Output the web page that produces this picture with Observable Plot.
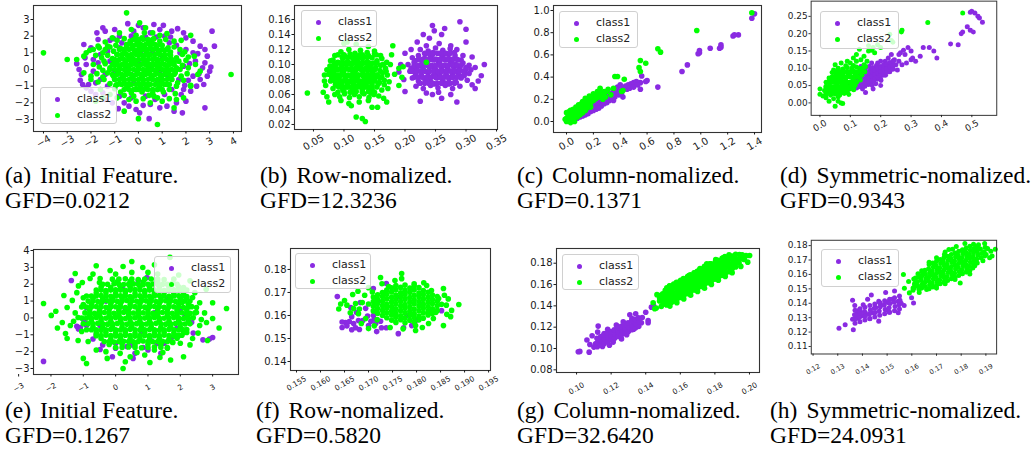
<!DOCTYPE html>
<html><head><meta charset="utf-8">
<script src="https://cdn.jsdelivr.net/npm/d3@7"></script>
<script src="https://cdn.jsdelivr.net/npm/@observablehq/plot@0.6"></script>
<style>
body{margin:0;background:#fff}
#fig{position:relative;width:1032px;height:456px;overflow:hidden;background:#fff}
.panel{position:absolute}
.panel svg{overflow:visible;display:block}
.cap{position:absolute;font-family:"Liberation Serif","Times New Roman",serif;font-size:23.5px;line-height:25.5px;white-space:nowrap;color:#000}
.cap .lab{margin-right:9px}
.legend{position:absolute;box-sizing:border-box;background:rgba(255,255,255,0.8);border:1px solid #d0d0d0;border-radius:3px;font-family:"DejaVu Sans",sans-serif;font-size:11px;color:#222}
.legend .row{position:absolute;left:0;height:16px;line-height:16px}
.legend .mk{position:absolute;width:5px;height:5px;border-radius:50%}
.legend .tx{position:absolute;white-space:nowrap}
</style></head>
<body><div id="fig"></div>
<script>
// ---------------- data ----------------
const legendLabels = ["class1","class2"];
const capLabels = ["(a)","(b)","(c)","(d)","(e)","(f)","(g)","(h)"];
const capTitles = ["Initial Feature.","Row-nomalized.","Column-nomalized.","Symmetric-nomalized.","Initial Feature.","Row-nomalized.","Column-nomalized.","Symmetric-nomalized."];
const gfdValues = ["0.0212","12.3236","0.1371","0.9343","0.1267","0.5820","32.6420","24.0931"];

const aXTicks=[-4,-3,-2,-1,0,1,2,3,4], aYTicks=[-3,-2,-1,0,1,2,3];
const bXTicks=[0.05,0.10,0.15,0.20,0.25,0.30,0.35], bYTicks=[0.02,0.04,0.06,0.08,0.10,0.12,0.14,0.16];
const cXTicks=[0,0.2,0.4,0.6,0.8,1.0,1.2,1.4], cYTicks=[0,0.2,0.4,0.6,0.8,1.0];
const dXTicks=[0,0.1,0.2,0.3,0.4,0.5], dYTicks=[0,0.05,0.10,0.15,0.20,0.25];
const eXTicks=[-3,-2,-1,0,1,2,3], eYTicks=[-3,-2,-1,0,1,2,3,4];
const fXTicks=[0.155,0.160,0.165,0.170,0.175,0.180,0.185,0.190,0.195], fYTicks=[0.14,0.15,0.16,0.17,0.18];
const gXTicks=[0.10,0.12,0.14,0.16,0.18,0.20], gYTicks=[0.08,0.10,0.12,0.14,0.16,0.18];
const hXTicks=[0.12,0.13,0.14,0.15,0.16,0.17,0.18,0.19], hYTicks=[0.11,0.12,0.13,0.14,0.15,0.16,0.17,0.18];

const aC1=[[-1.5,2.5],[-1.4,2.3],[-1.0,2.4],[-.8,2.0],[-.45,2.75],[-.2,2.3],[.2,2.5],[.5,2.2],[.65,2.7],[.9,2.4],[1.1,2.0],[1.4,2.3],[1.65,2.45],[1.9,2.2],[3.1,2.3],[-1.7,1.8],[-1.2,1.75],[-.7,1.6],[-.3,2.0],[.3,1.95],[.75,1.95],[1.3,1.6],[1.6,1.45],[2.0,1.9],[2.3,1.7],[2.6,1.4],[3.2,1.4],[2.8,1.2],[-2.0,1.3],[-2.3,1.5],[-1.9,.6],[-2.2,.3],[-2.5,0],[-2.4,-.3],[-2.45,-.65],[-2.1,-.9],[-2.2,-1.1],[-1.8,-.8],[-1.9,-.1],[-1.7,.4],[-1.6,.9],[2.5,.95],[2.8,.4],[3.0,-.1],[2.7,.1],[2.4,.5],[2.3,-.4],[2.1,-.65],[2.6,-.6],[2.45,-1.0],[2.2,-1.3],[1.9,-1.2],[1.8,-1.5],[2.0,-1.9],[1.6,-2.0],[2.8,-2.3],[1.85,-2.6],[1.2,-2.2],[.9,-2.3],[.5,-2.1],[.45,-2.95],[.05,-2.6],[-.1,-2.4],[-.4,-2.2],[-.85,-2.35],[-1.1,-2.0],[-1.4,-1.8],[-1.5,-1.4],[-1.8,-1.5],[-.8,-1.6],[-.3,-1.7],[.3,-1.6],[.7,-1.8],[1.1,-1.5],[1.4,-1.2],[1.7,-.6],[1.9,.2],[2.0,1.2],[1.75,1.0],[-1.3,-1.0],[-1.4,-.3],[-1.2,.5],[-1.3,1.1],[-.8,1.3],[-.4,.8],[.1,1.0],[.6,1.1],[1.0,.8],[1.4,.4],[1.2,-.3],[.8,-.7],[.3,-.9],[-.2,-.8],[-.7,-.5],[-1.0,-.1],[-.5,.2],[0,.4],[.5,0],[.9,-.2],[-.3,-.3],[2.3,1.0],[2.15,.35],[2.9,.8],[2.55,-.25],[2.75,-.9],[1.5,-2.5],[.2,-2.15],[-.6,-2.0],[-1.75,2.2],[0,2.65],[1.05,2.65],[1.35,1.95],[-2.6,.35],[-2.25,.7],[-1.05,1.85],[3.05,.15],[2.9,-.4],[1.95,-.95],[-1.6,-.6],[-2.0,-1.3],[-2.35,-.9]];
const aC2=[[-.5,3.4],[.05,2.8],[.3,2.5],[.6,2.2],[-.3,2.4],[-.8,2.2],[1.2,2.15],[.9,2.05],[-.1,2.05],[.25,2.2],[-1.4,1.65],[-1.1,1.9],[-.9,1.75],[-.6,1.85],[-.35,1.7],[-.1,1.8],[.15,1.9],[.4,1.75],[.65,1.85],[.9,1.7],[1.15,1.8],[1.5,1.7],[1.8,1.75],[2.2,2.05],[-1.7,1.4],[-1.3,1.4],[0,1.6],[.55,1.6],[-2.2,1.0],[-2.05,1.15],[-1.9,1.2],[-1.65,1.3],[-1.4,1.2],[-1.2,1.35],[-.95,1.45],[-.75,1.25],[-.5,1.4],[-.25,1.3],[0,1.45],[.25,1.3],[.5,1.45],[.75,1.3],[1.0,1.45],[1.25,1.3],[1.5,1.35],[1.75,1.2],[1.95,1.05],[-1.05,1.1],[-.6,1.05],[-.15,1.1],[.35,1.05],[.85,1.1],[1.35,1.05],[-1.5,1.0],[.1,1.2],[.6,1.2],[1.1,1.15],[-2.3,.8],[-1.8,.85],[-1.55,.7],[-1.3,.85],[-1.1,.65],[-.9,.9],[-.7,.7],[-.45,.85],[-.25,.65],[0,.9],[.2,.7],[.45,.85],[.65,.65],[.9,.9],[1.1,.7],[1.35,.85],[1.6,.7],[1.85,.9],[2.1,.75],[2.35,.8],[-1.0,.5],[-.55,.5],[-.1,.5],[.35,.5],[.8,.5],[1.25,.55],[1.7,.5],[-3,.6],[-2.6,.6],[-4,1.0],[-1.45,.5],[2.0,.55],[-1.9,.3],[-1.65,.15],[-1.4,.35],[-1.2,.1],[-1.0,.3],[-.8,.1],[-.6,.3],[-.4,.1],[-.2,.35],[0,.15],[.2,.35],[.4,.1],[.6,.3],[.8,.1],[1.0,.35],[1.2,.15],[1.4,.35],[1.6,.1],[1.85,.25],[2.1,.1],[2.4,.3],[-.9,.45],[-.3,.45],[.3,.45],[.9,.25],[1.5,.45],[-1.5,-.05],[-.05,-.05],[.5,-.05],[1.1,-.05],[1.75,0],[-2.3,-.2],[-2.0,-.4],[-1.75,-.25],[-1.5,-.45],[-1.3,-.2],[-1.05,-.4],[-.85,-.15],[-.65,-.4],[-.45,-.2],[-.25,-.45],[-.05,-.25],[.15,-.45],[.35,-.2],[.55,-.4],[.75,-.2],[.95,-.45],[1.15,-.25],[1.35,-.45],[1.55,-.2],[1.8,-.4],[2.05,-.25],[2.5,-.3],[2.6,-.1],[3.9,-.3],[-.55,-.05],[.25,-.1],[1.3,-.05],[-2.0,-.6],[-1.7,-.75],[-1.45,-.6],[-1.2,-.85],[-1.0,-.6],[-.8,-.85],[-.6,-.65],[-.4,-.9],[-.2,-.6],[0,-.85],[.2,-.65],[.4,-.9],[.6,-.6],[.8,-.85],[1.0,-.65],[1.2,-.9],[1.4,-.6],[1.65,-.8],[1.9,-.65],[2.2,-.95],[-.95,-.95],[.1,-1.0],[.9,-1.0],[1.6,-1.0],[-1.6,-1.2],[-1.2,-1.5],[-1.0,-1.15],[-.75,-1.35],[-.5,-1.1],[-.3,-1.4],[-.1,-1.2],[.15,-1.35],[.35,-1.15],[.6,-1.4],[.8,-1.2],[1.05,-1.35],[1.3,-1.2],[1.55,-1.45],[2.2,-1.0],[-.6,-1.55],[.45,-1.55],[-1.8,-1.9],[-1.5,-1.7],[-.9,-1.7],[-.4,-1.8],[-.1,-1.9],[.2,-1.75],[.5,-2.0],[.8,-1.7],[1.0,-1.9],[1.3,-1.75],[1.6,-1.8],[1.9,-1.7],[1.5,-2.3],[-.6,-2.5],[0,-2.95],[.8,-3.3],[.65,-1.6],[-.2,-1.6]];
const aC2Core=[[-.6,-1.2],[-.4,-1.2],[-.2,-1.2],[0,-1.2],[.2,-1.2],[.4,-1.2],[.6,-1.2],[.8,-1.2],[1.0,-1.2],[-.9,-.9],[-.7,-.9],[-.5,-.9],[-.3,-.9],[-.1,-.9],[.1,-.9],[.3,-.9],[.5,-.9],[.7,-.9],[.9,-.9],[1.1,-.9],[1.3,-.9],[-1.0,-.6],[-.8,-.6],[-.6,-.6],[-.4,-.6],[-.2,-.6],[0,-.6],[.2,-.6],[.4,-.6],[.6,-.6],[.8,-.6],[1.0,-.6],[1.2,-.6],[1.4,-.6],[-1.1,-.3],[-.9,-.3],[-.7,-.3],[-.5,-.3],[-.3,-.3],[-.1,-.3],[.1,-.3],[.3,-.3],[.5,-.3],[.7,-.3],[.9,-.3],[1.1,-.3],[1.3,-.3],[1.5,-.3],[-1.2,0],[-1.0,0],[-.8,0],[-.6,0],[-.4,0],[-.2,0],[0,0],[.2,0],[.4,0],[.6,0],[.8,0],[1.0,0],[1.2,0],[1.4,0],[1.6,0],[-1.1,.3],[-.9,.3],[-.7,.3],[-.5,.3],[-.3,.3],[-.1,.3],[.1,.3],[.3,.3],[.5,.3],[.7,.3],[.9,.3],[1.1,.3],[1.3,.3],[1.5,.3],[-1.0,.6],[-.8,.6],[-.6,.6],[-.4,.6],[-.2,.6],[0,.6],[.2,.6],[.4,.6],[.6,.6],[.8,.6],[1.0,.6],[1.2,.6],[1.4,.6],[-.9,.9],[-.7,.9],[-.5,.9],[-.3,.9],[-.1,.9],[.1,.9],[.3,.9],[.5,.9],[.7,.9],[.9,.9],[1.1,.9],[1.3,.9],[-.8,1.2],[-.6,1.2],[-.4,1.2],[-.2,1.2],[0,1.2],[.2,1.2],[.4,1.2],[.6,1.2],[.8,1.2],[1.0,1.2],[1.2,1.2],[-.5,1.5],[-.3,1.5],[-.1,1.5],[.1,1.5],[.3,1.5],[.5,1.5],[.7,1.5],[.9,1.5],[-.2,1.8],[0,1.8],[.2,1.8],[.4,1.8],[.6,1.8]];

const bC1=[[.29,.157],[.30,.147],[.245,.152],[.248,.145],[.265,.148],[.26,.14],[.285,.05],[.225,.051],[.26,.055],[.245,.06],[.33,.1],[.325,.085],[.32,.078],[.315,.068],[.31,.073],[.305,.088],[.198,.08],[.2,.064],[.193,.1],[.19,.09],[.2,.115],[.21,.12],[.22,.13],[.235,.125],[.275,.125],[.285,.12],[.3,.13],[.295,.112],[.31,.11],[.23,.14],[.24,.135],[.225,.12],[.238,.118],[.25,.122],[.262,.119],[.274,.121],[.256,.128],[.212,.109],[.222,.112],[.232,.108],[.242,.111],[.252,.107],[.262,.111],[.272,.108],[.282,.112],[.292,.106],[.205,.1],[.215,.103],[.225,.099],[.235,.102],[.245,.098],[.255,.102],[.265,.099],[.275,.103],[.285,.098],[.295,.102],[.305,.099],[.315,.096],[.208,.091],[.218,.088],[.228,.092],[.238,.089],[.248,.093],[.258,.089],[.268,.092],[.278,.088],[.288,.092],[.298,.089],[.308,.093],[.212,.082],[.222,.078],[.232,.081],[.242,.077],[.252,.082],[.262,.078],[.272,.081],[.282,.077],[.292,.082],[.302,.079],[.218,.071],[.23,.068],[.242,.072],[.254,.069],[.266,.072],[.278,.068],[.29,.071],[.255,.063],[.235,.062],[.275,.06],[.228,.104],[.25,.087],[.27,.095],[.29,.085],[.24,.083],[.26,.113],[.283,.1],[.217,.094],[.246,.116],[.268,.086],[.3,.094],[.217,.105],[.227,.106],[.237,.104],[.247,.106],[.257,.104],[.267,.106],[.277,.104],[.287,.106],[.21,.095],[.22,.096],[.23,.094],[.24,.096],[.25,.094],[.26,.096],[.27,.094],[.28,.096],[.29,.094],[.3,.096],[.217,.085],[.227,.086],[.237,.084],[.247,.086],[.257,.084],[.267,.086],[.277,.084],[.287,.086],[.297,.085],[.224,.075],[.236,.076],[.248,.074],[.26,.076],[.272,.074],[.284,.076],[.233,.114],[.245,.113],[.257,.115],[.269,.114],[.281,.116]];
const bC1Core=[[.225,.075],[.232,.075],[.239,.075],[.246,.075],[.253,.075],[.26,.075],[.267,.075],[.274,.075],[.281,.075],[.215,.083],[.222,.083],[.229,.083],[.236,.083],[.243,.083],[.25,.083],[.257,.083],[.264,.083],[.271,.083],[.278,.083],[.285,.083],[.292,.083],[.212,.091],[.219,.091],[.226,.091],[.233,.091],[.24,.091],[.247,.091],[.254,.091],[.261,.091],[.268,.091],[.275,.091],[.282,.091],[.289,.091],[.296,.091],[.215,.099],[.222,.099],[.229,.099],[.236,.099],[.243,.099],[.25,.099],[.257,.099],[.264,.099],[.271,.099],[.278,.099],[.285,.099],[.292,.099],[.222,.107],[.229,.107],[.236,.107],[.243,.107],[.25,.107],[.257,.107],[.264,.107],[.271,.107],[.278,.107],[.285,.107],[.232,.115],[.239,.115],[.246,.115],[.253,.115],[.26,.115],[.267,.115],[.274,.115]];
const bC2=[[.04,.062],[.13,.028],[.135,.024],[.12,.030],[.108,.048],[.112,.045],[.146,.043],[.155,.043],[.165,.055],[.17,.05],[.068,.078],[.066,.063],[.072,.057],[.075,.05],[.078,.105],[.1,.128],[.105,.13],[.12,.127],[.14,.124],[.18,.125],[.178,.113],[.19,.095],[.197,.097],[.195,.083],[.19,.072],[.183,.087],[.095,.117],[.108,.12],[.118,.115],[.127,.119],[.138,.116],[.15,.118],[.16,.112],[.085,.112],[.082,.106],[.09,.103],[.098,.108],[.106,.104],[.114,.109],[.122,.105],[.13,.108],[.138,.104],[.146,.109],[.154,.105],[.162,.108],[.17,.103],[.077,.098],[.08,.097],[.088,.094],[.096,.099],[.104,.095],[.112,.1],[.12,.096],[.128,.099],[.136,.095],[.144,.1],[.152,.096],[.16,.099],[.168,.095],[.176,.1],[.072,.093],[.075,.087],[.083,.09],[.091,.086],[.099,.09],[.107,.085],[.115,.089],[.123,.086],[.131,.09],[.139,.086],[.147,.09],[.155,.086],[.163,.089],[.171,.086],[.068,.086],[.078,.078],[.086,.081],[.094,.076],[.102,.08],[.11,.077],[.118,.081],[.126,.076],[.134,.08],[.142,.077],[.15,.081],[.158,.076],[.166,.079],[.174,.077],[.07,.072],[.082,.068],[.09,.071],[.098,.066],[.106,.07],[.114,.067],[.122,.071],[.13,.066],[.138,.07],[.146,.067],[.154,.07],[.162,.066],[.172,.068],[.085,.06],[.093,.057],[.101,.061],[.109,.056],[.117,.06],[.125,.057],[.133,.061],[.141,.056],[.149,.06],[.157,.058],[.095,.052],[.125,.05],[.14,.052],[.087,.1],[.1,.113],[.113,.094],[.126,.113],[.14,.098],[.153,.113],[.105,.074],[.118,.062],[.131,.074],[.144,.062],[.092,.082],[.135,.083],[.158,.083],[.117,.105],[.097,.091],[.15,.093],[.165,.1],[.08,.082],[.09,.113],[.1,.112],[.11,.114],[.12,.111],[.13,.113],[.14,.112],[.15,.114],[.084,.1],[.094,.102],[.104,.1],[.114,.102],[.124,.1],[.134,.102],[.144,.1],[.154,.102],[.164,.1],[.079,.092],[.089,.093],[.099,.092],[.109,.093],[.119,.092],[.129,.093],[.139,.092],[.149,.093],[.159,.092],[.169,.091],[.082,.083],[.092,.084],[.102,.083],[.112,.084],[.122,.083],[.132,.084],[.142,.083],[.152,.084],[.162,.083],[.086,.073],[.096,.074],[.106,.073],[.116,.074],[.126,.073],[.136,.074],[.146,.073],[.156,.074],[.166,.073],[.09,.063],[.1,.064],[.11,.063],[.12,.064],[.13,.063],[.14,.064],[.15,.063],[.235,.103]];
const bC2Core=[[.092,.07],[.098,.07],[.104,.07],[.11,.07],[.116,.07],[.122,.07],[.128,.07],[.134,.07],[.14,.07],[.146,.07],[.085,.078],[.091,.078],[.097,.078],[.103,.078],[.109,.078],[.115,.078],[.121,.078],[.127,.078],[.133,.078],[.139,.078],[.145,.078],[.151,.078],[.082,.086],[.088,.086],[.094,.086],[.1,.086],[.106,.086],[.112,.086],[.118,.086],[.124,.086],[.13,.086],[.136,.086],[.142,.086],[.148,.086],[.154,.086],[.085,.094],[.091,.094],[.097,.094],[.103,.094],[.109,.094],[.115,.094],[.121,.094],[.127,.094],[.133,.094],[.139,.094],[.145,.094],[.151,.094],[.088,.102],[.094,.102],[.1,.102],[.106,.102],[.112,.102],[.118,.102],[.124,.102],[.13,.102],[.136,.102],[.142,.102],[.148,.102],[.097,.11],[.103,.11],[.109,.11],[.115,.11],[.121,.11],[.127,.11],[.133,.11],[.139,.11]];

const cC1=[[1.4,.97],[1.38,.93],[1.28,.78],[1.24,.77],[1.25,.78],[1.15,.67],[1.14,.66],[1.15,.69],[1.07,.66],[.99,.64],[.99,.62],[.98,.61],[.9,.51],[.86,.45],[.68,.31],[.6,.37],[.59,.36],[.55,.35],[.55,.29],[.56,.41],[.5,.35],[.52,.36],[.48,.34],[.46,.33],[.44,.32],[.42,.3],[.42,.22],[.4,.27],[.38,.28],[.37,.26],[.36,.22],[.34,.25],[.33,.23],[.32,.22],[.3,.2],[.3,.17],[.28,.19],[.27,.17],[.26,.14],[.25,.16],[.24,.15],[.23,.13],[.22,.14],[.21,.12],[.2,.13],[.19,.11],[.18,.12],[.17,.1],[.16,.09],[.15,.1],[.14,.08],[.13,.09],[.12,.07],[.11,.08],[.1,.06],[.09,.05],[.08,.06],[.07,.04],[.06,.05],[.05,.03],[.04,.02],[.35,.19],[.31,.24],[.29,.21],[.27,.2],[.39,.24],[.41,.25],[.45,.29],[.47,.3],[.5,.31],[.53,.33],[.35,.27],[.33,.25],[.3,.22],[.2,.1],[.22,.11],[.24,.12],[.18,.09],[.16,.07],[.14,.06],[.12,.05],[.1,.04],[.08,.03],[.25,.19],[.28,.16],[.32,.19],[.36,.25],[.38,.31],[.4,.33],[.26,.21],[.23,.17],[.21,.15],[.19,.14],[.17,.12],[.15,.11]];
const cC2=[[1.38,.98],[.97,.82],[.68,.655],[.70,.625],[.59,.525],[.55,.55],[.54,.485],[.55,.45],[.43,.38],[.38,.405],[.36,.405],[.42,.28],[.41,.27],[.35,.3],[.33,.24],[.3,.27],[.28,.25],[.25,.3],[.23,.27],[.22,.24],[.2,.25],[.19,.21],[.17,.23],[.16,.2],[.15,.19],[.14,.21],[.13,.17],[.12,.18],[.11,.16],[.1,.14],[.09,.15],[.08,.12],[.07,.13],[.06,.1],[.05,.11],[.04,.08],[.03,.07],[.02,.05],[.01,.04],[0,.03],[-.01,.02],[0,0],[.02,.01],[.04,.03],[.06,.05],[.08,.07],[.1,.09],[.12,.11],[.14,.13],[.16,.15],[.18,.17],[.2,.19],[.22,.21],[.24,.22],[.26,.23],[.28,.27],[.31,.29],[.05,.06],[.07,.08],[.09,.1],[.11,.12],[.13,.14],[.15,.16],[.17,.18],[.19,.19],[.21,.22],[.03,.03],[.01,.01],[.05,.02],[.08,.04],[.03,-.01],[.06,0],[.1,.06],[.12,.08],[.14,.1],[.18,.13],[.02,.09],[.04,.05],[.06,.07],[.08,.09],[.1,.11],[.12,.13],[.025,.025],[.045,.045],[.065,.075],[.085,.085],[.105,.115],[.125,.125],[.145,.145],[.165,.175],[.185,.185],[.205,.205],[.09,.06],[.11,.08],[.13,.1],[.15,.12],[.17,.14],[.035,.055],[.015,.065],[0,.08],[.03,.1],[.055,.09],[.075,.11],[.095,.125],[.115,.145],[.135,.16],[.155,.175],[.175,.2],[.195,.225],[.21,.2],[.23,.22],[.24,.24],[.27,.2],[.29,.22],[.26,.26]];

const dC1=[[.5,.265],[.495,.262],[.51,.26],[.52,.25],[.525,.245],[.535,.233],[.495,.21],[.505,.205],[.485,.22],[.47,.205],[.465,.2],[.43,.17],[.455,.168],[.385,.13],[.375,.15],[.36,.16],[.34,.16],[.33,.135],[.315,.12],[.3,.15],[.3,.125],[.29,.16],[.275,.152],[.265,.145],[.26,.14],[.28,.14],[.245,.125],[.25,.11],[.27,.11],[.285,.115],[.305,.13],[.235,.14],[.225,.13],[.215,.12],[.22,.105],[.2,.12],[.185,.1],[.2,.05],[.175,.04],[.15,.03],[.14,.04],[.17,.06],[.23,.09],[.24,.1],[.21,.08],[.26,.12],[.255,.095],[.1,.045],[.112,.05],[.124,.046],[.136,.052],[.148,.048],[.16,.053],[.172,.05],[.184,.055],[.105,.06],[.117,.064],[.129,.06],[.141,.065],[.153,.062],[.165,.067],[.177,.063],[.189,.068],[.201,.065],[.12,.075],[.132,.079],[.144,.076],[.156,.08],[.168,.077],[.18,.082],[.192,.079],[.204,.084],[.216,.08],[.13,.088],[.142,.092],[.154,.089],[.166,.094],[.178,.09],[.19,.096],[.202,.093],[.214,.098],[.226,.095],[.15,.1],[.162,.105],[.174,.102],[.186,.108],[.198,.105],[.21,.11],[.17,.115],[.19,.115],[.09,.035],[.095,.055],[.11,.07],[.16,.085],[.2,.07],[.185,.085],[.145,.07],[.135,.105],[.21,.095],[.23,.105],[.24,.115]];
const dC1Core=[[.12,.043],[.12,.055],[.12,.067],[.13,.0475],[.13,.0595],[.13,.0715],[.14,.052],[.14,.064],[.14,.076],[.15,.0565],[.15,.0685],[.15,.0805],[.16,.061],[.16,.073],[.16,.085],[.17,.0655],[.17,.0775],[.17,.0895],[.18,.07],[.18,.082],[.18,.094],[.19,.0745],[.19,.0865],[.19,.0985],[.20,.079],[.20,.091],[.20,.103],[.21,.0835],[.21,.0955],[.21,.1075],[.22,.088],[.22,.1],[.22,.112],[.23,.0925],[.23,.1045],[.23,.1165],[.24,.097],[.24,.109],[.24,.121]];
const dC2=[[0,.04],[0,.025],[.01,.02],[.02,.015],[.03,.005],[.05,-.01],[.07,0],[.075,-.002],[.06,.005],[.04,.03],[.02,.06],[.47,.26],[.355,.232],[.27,.21],[.268,.205],[.23,.198],[.235,.18],[.24,.175],[.19,.168],[.175,.16],[.17,.152],[.16,.15],[.18,.145],[.13,.155],[.145,.135],[.12,.14],[.11,.13],[.155,.12],[.09,.12],[.07,.115],[.12,.12],[.135,.125],[.1,.115],[.16,.165],[.2,.16],[.14,.1],[.13,.09],[.05,.11],[.045,.095],[.06,.1],[.075,.098],[.09,.102],[.105,.1],[.12,.104],[.11,.108],[.085,.107],[.04,.088],[.052,.085],[.064,.09],[.076,.086],[.088,.09],[.1,.087],[.112,.091],[.124,.088],[.136,.093],[.148,.09],[.03,.072],[.042,.076],[.054,.073],[.066,.077],[.078,.074],[.09,.078],[.102,.075],[.114,.078],[.126,.075],[.138,.08],[.025,.06],[.037,.063],[.049,.059],[.061,.063],[.073,.06],[.085,.064],[.097,.06],[.109,.064],[.121,.061],[.133,.066],[.02,.048],[.032,.051],[.044,.047],[.056,.051],[.068,.048],[.08,.052],[.092,.048],[.104,.052],[.116,.05],[.015,.036],[.027,.039],[.039,.035],[.051,.039],[.063,.036],[.075,.04],[.087,.036],[.099,.04],[.111,.038],[.02,.026],[.035,.022],[.05,.026],[.065,.023],[.08,.027],[.095,.024],[.045,.012],[.06,.018],[.07,.068],[.058,.082],[.095,.082],[.083,.056],[.047,.068],[.11,.07],[.035,.045],[.105,.095],[.12,.082],[.13,.1],[.15,.105],[.145,.11]];
const dC2Core=[[.02,.03],[.03,.03],[.04,.03],[.05,.03],[.06,.03],[.07,.03],[.08,.03],[.09,.03],[.02,.045],[.03,.045],[.04,.045],[.05,.045],[.06,.045],[.07,.045],[.08,.045],[.09,.045],[.1,.045],[.11,.045],[.03,.06],[.04,.06],[.05,.06],[.06,.06],[.07,.06],[.08,.06],[.09,.06],[.1,.06],[.11,.06],[.12,.06],[.04,.075],[.05,.075],[.06,.075],[.07,.075],[.08,.075],[.09,.075],[.1,.075],[.11,.075],[.12,.075],[.13,.075],[.05,.09],[.06,.09],[.07,.09],[.08,.09],[.09,.09],[.1,.09],[.11,.09],[.12,.09],[.13,.09]];

const eC1=[[-2.23,-2.58],[-1.37,2.22],[-1.09,-.57],[-.48,-1.87],[.54,-2.4],[1.28,-1.52],[3.0,-1.16],[2.9,-1.25],[2.23,-.03],[.97,2.4],[-1.0,-.1],[-.9,-.45],[0,-1.5],[.5,-1.6],[1.0,-1.9],[-.6,-1.0],[.3,.5],[1.2,.3],[.8,-.8],[-.3,1.0],[.2,1.8],[.7,2.2],[1.6,1.1],[1.9,-.6],[2.0,.4],[0,-1.8],[-.4,-1.6],[-1.2,-.5],[-.9,.6],[1.5,-1.5],[2.4,-.9],[2.7,-1.3],[1.4,-2.1],[.6,-2.1],[-.1,-2.3],[-.48,-.45],[-.17,-1.46],[.35,-1.7],[1.1,-1.35],[2.15,.15],[2.35,-.25],[-.95,-.25],[-1.15,-.65],[.85,-1.75],[1.75,-1.15],[-.7,-1.25]];
const eC2=[[-.1,2.3],[.3,2.32],[.7,2.28],[1.1,2.31],[1.5,2.27],[-.4,2.0],[-.05,2.03],[.25,1.98],[.55,2.02],[.85,1.97],[1.15,2.01],[1.45,1.99],[1.75,2.04],[-.6,1.65],[-.3,1.62],[0,1.67],[.3,1.64],[.6,1.68],[.9,1.63],[1.2,1.66],[1.5,1.62],[1.8,1.67],[2.05,1.64],[-.75,1.3],[-.45,1.33],[-.15,1.28],[.15,1.31],[.45,1.27],[.75,1.32],[1.05,1.29],[1.35,1.33],[1.65,1.28],[1.95,1.31],[2.2,1.27],[-.85,1.0],[-.55,.97],[-.25,1.02],[.05,.98],[.35,1.03],[.65,.99],[.95,1.01],[1.25,.97],[1.55,1.02],[1.85,.98],[2.15,1.01],[-.9,.65],[-.6,.68],[-.3,.63],[0,.66],[.3,.62],[.6,.67],[.9,.64],[1.2,.68],[1.5,.63],[1.8,.66],[2.1,.62],[2.35,.67],[-.95,.3],[-.65,.27],[-.35,.32],[-.05,.28],[.25,.33],[.55,.29],[.85,.31],[1.15,.27],[1.45,.32],[1.75,.28],[2.05,.31],[2.3,.27],[-.9,0],[-.6,.03],[-.3,-.02],[0,.02],[.3,-.03],[.6,.01],[.9,-.01],[1.2,.03],[1.5,-.02],[1.8,.02],[2.1,-.03],[2.4,.01],[-.85,-.35],[-.55,-.32],[-.25,-.37],[.05,-.33],[.35,-.38],[.65,-.34],[.95,-.36],[1.25,-.32],[1.55,-.37],[1.85,-.33],[2.15,-.36],[-.75,-.7],[-.45,-.73],[-.15,-.68],[.15,-.72],[.45,-.67],[.75,-.71],[1.05,-.69],[1.35,-.73],[1.65,-.68],[1.95,-.72],[2.2,-.69],[-.6,-1.05],[-.3,-1.02],[0,-1.07],[.3,-1.03],[.6,-1.08],[.9,-1.04],[1.2,-1.06],[1.5,-1.02],[1.8,-1.07],[2.05,-1.03],[-.35,-1.4],[-.05,-1.43],[.25,-1.38],[.55,-1.42],[.85,-1.37],[1.15,-1.41],[1.45,-1.39],[1.75,-1.43],[0,-1.75],[.4,-1.72],[.8,-1.77],[1.2,-1.73],[1.6,-1.76],[.05,2.15],[.45,2.17],[.85,2.13],[1.3,2.16],[-.45,1.82],[-.15,1.8],[.15,1.84],[.45,1.81],[.75,1.85],[1.05,1.8],[1.35,1.83],[1.65,1.79],[1.95,1.84],[-.6,1.48],[-.3,1.5],[0,1.46],[.3,1.49],[.6,1.45],[.9,1.5],[1.2,1.47],[1.5,1.51],[1.8,1.46],[2.1,1.49],[-.7,1.15],[-.4,1.13],[-.1,1.17],[.2,1.14],[.5,1.18],[.8,1.13],[1.1,1.16],[1.4,1.12],[1.7,1.17],[2.0,1.14],[-.75,.82],[-.45,.85],[-.15,.8],[.15,.84],[.45,.79],[.75,.83],[1.05,.81],[1.35,.85],[1.65,.8],[1.95,.84],[2.25,.81],[-.8,.48],[-.5,.45],[-.2,.5],[.1,.46],[.4,.51],[.7,.47],[1.0,.49],[1.3,.45],[1.6,.5],[1.9,.46],[2.2,.49],[-.8,.15],[-.5,.18],[-.2,.13],[.1,.17],[.4,.12],[.7,.16],[1.0,.14],[1.3,.18],[1.6,.13],[1.9,.17],[2.2,.14],[-.75,-.18],[-.45,-.15],[-.15,-.2],[.15,-.16],[.45,-.21],[.75,-.17],[1.05,-.19],[1.35,-.15],[1.65,-.2],[1.95,-.16],[2.25,-.19],[-.7,-.52],[-.4,-.55],[-.1,-.5],[.2,-.54],[.5,-.49],[.8,-.53],[1.1,-.51],[1.4,-.55],[1.7,-.5],[2.0,-.54],[-.6,-.88],[-.3,-.85],[0,-.9],[.3,-.86],[.6,-.91],[.9,-.87],[1.2,-.89],[1.5,-.85],[1.8,-.9],[2.1,-.86],[-.45,-1.22],[-.15,-1.25],[.15,-1.2],[.45,-1.24],[.75,-1.19],[1.05,-1.23],[1.35,-1.21],[1.65,-1.25],[1.9,-1.2],[-.2,-1.58],[.2,-1.55],[.6,-1.6],[1.0,-1.56],[1.4,-1.59],[-2.23,.86],[-1.99,.15],[3.43,.56],[-1.25,2.64],[.23,3.05],[.84,2.99],[1.68,3.59],[-.48,2.34],[-.17,2.81],[-.79,2.34],[-1.03,2.1],[-1.15,1.9],[-1.6,1.33],[-1.34,1.04],[-1.5,.62],[-1.65,-.27],[-1.55,-.92],[-1.5,-1.22],[-1.16,-1.34],[-1.0,-2.4],[-1.4,-.45],[-1.16,.03],[-.26,-2.4],[.14,-2.1],[.23,-3.0],[.66,-2.05],[1.06,-2.64],[1.37,-2.35],[1.46,-2.05],[1.77,-1.46],[2.2,-.86],[2.6,-.45],[2.81,-.27],[3.0,-.03],[2.5,.32],[2.5,.62],[2.38,1.21],[2.2,1.21],[2.05,.9],[2.84,-1.34],[2.38,-1.22],[1.89,-1.04],[-1.2,1.5],[-1.0,.8],[-1.25,.3],[-1.3,-.2],[-1.05,-.8],[-.85,-1.4],[-.6,-1.9],[-.3,-2.0],[.45,-2.3],[.9,-2.2],[1.2,-1.9],[1.6,-1.8],[2.0,-1.5],[2.3,-1.6],[2.55,-.9],[2.65,-.1],[2.75,.3],[2.6,.9],[2.45,1.5],[2.1,1.8],[1.8,2.3],[1.3,2.6],[1.0,2.7],[.5,2.7],[0,2.6],[-.5,2.1],[-.7,2.6],[-1.0,1.2],[1.95,2.55],[2.3,2.2],[2.8,1.7],[3.0,.9],[3.2,-.6],[-1.85,.4],[-1.8,-.6],[.3,-2.6],[-.9,-2.7],[1.7,-2.5],[2.1,-2.3],[-.6,3.1],[.5,3.35],[1.2,3.15]];
const eC2Core=[[.1,2.3],[.5,2.3],[.9,2.3],[1.3,2.3],[-.25,2.0],[.1,2.0],[.4,2.0],[.7,2.0],[1.0,2.0],[1.3,2.0],[1.6,2.0],[1.9,2.0],[-.45,1.65],[-.15,1.65],[.15,1.65],[.45,1.65],[.75,1.65],[1.05,1.65],[1.35,1.65],[1.65,1.65],[1.95,1.65],[2.2,1.65],[-.9,1.3],[-.6,1.3],[-.3,1.3],[0,1.3],[.3,1.3],[.6,1.3],[.9,1.3],[1.2,1.3],[1.5,1.3],[1.8,1.3],[2.1,1.3],[-.7,1.0],[-.4,1.0],[-.1,1.0],[.2,1.0],[.5,1.0],[.8,1.0],[1.1,1.0],[1.4,1.0],[1.7,1.0],[2.0,1.0],[2.3,1.0],[-1.05,.65],[-.75,.65],[-.45,.65],[-.15,.65],[.15,.65],[.45,.65],[.75,.65],[1.05,.65],[1.35,.65],[1.65,.65],[1.95,.65],[2.25,.65],[-.8,.3],[-.5,.3],[-.2,.3],[.1,.3],[.4,.3],[.7,.3],[1.0,.3],[1.3,.3],[1.6,.3],[1.9,.3],[2.2,.3],[2.45,.3],[-1.05,0],[-.75,0],[-.45,0],[-.15,0],[.15,0],[.45,0],[.75,0],[1.05,0],[1.35,0],[1.65,0],[1.95,0],[2.25,0],[-1.0,-.35],[-.7,-.35],[-.4,-.35],[-.1,-.35],[.2,-.35],[.5,-.35],[.8,-.35],[1.1,-.35],[1.4,-.35],[1.7,-.35],[2.0,-.35],[2.3,-.35],[-.9,-.7],[-.6,-.7],[-.3,-.7],[0,-.7],[.3,-.7],[.6,-.7],[.9,-.7],[1.2,-.7],[1.5,-.7],[1.8,-.7],[2.1,-.7],[-.45,-1.05],[-.15,-1.05],[.15,-1.05],[.45,-1.05],[.75,-1.05],[1.05,-1.05],[1.35,-1.05],[1.65,-1.05],[1.95,-1.05],[-.2,-1.4],[.1,-1.4],[.4,-1.4],[.7,-1.4],[1.0,-1.4],[1.3,-1.4],[1.6,-1.4],[.2,-1.75],[.6,-1.75],[1.0,-1.75],[1.4,-1.75]];

const fC1=[[.1635,.1682],[.1663,.1635],[.1665,.1595],[.1652,.1569],[.1669,.1565],[.1679,.1578],[.1681,.1539],[.170,.1556],[.1715,.1565],[.1717,.153],[.171,.16],[.1737,.1739],[.171,.1717],[.1737,.1547],[.1762,.1521],[.1773,.1547],[.1852,.1621],[.1694,.1631],[.1683,.1656],[.1675,.1613],[.166,.1574],[.1673,.1547],[.1727,.1547],[.179,.1556],[.1655,.1555],[.1645,.1548],[.1645,.1572],[.1665,.1538],[.1688,.1578],[.1705,.1575],[.1725,.1575],[.175,.163],[.178,.16],[.181,.165],[.176,.168],[.172,.166],[.18,.158],[.183,.162],[.1698,.1598],[.1712,.1585]];
const fC2=[[.1757,.157],[.1776,.1568],[.1795,.1571],[.1748,.158],[.1767,.1582],[.1786,.1579],[.1805,.1581],[.1738,.159],[.1757,.1592],[.1776,.1589],[.1795,.1591],[.1814,.1588],[.1729,.16],[.1748,.1602],[.1767,.1599],[.1786,.1601],[.1805,.1598],[.1824,.1602],[.1719,.161],[.1738,.1612],[.1757,.1609],[.1776,.1611],[.1795,.1608],[.1814,.1611],[.1833,.1609],[.171,.162],[.1729,.1622],[.1748,.1619],[.1767,.1621],[.1786,.1618],[.1805,.1621],[.1824,.1619],[.1843,.1622],[.1719,.163],[.1738,.1632],[.1757,.1629],[.1776,.1631],[.1795,.1628],[.1814,.1631],[.1833,.1629],[.171,.164],[.1729,.1642],[.1748,.1639],[.1767,.1641],[.1786,.1638],[.1805,.1641],[.1824,.1639],[.1843,.1642],[.17,.165],[.1719,.1652],[.1738,.1649],[.1757,.1651],[.1776,.1648],[.1795,.1651],[.1814,.1649],[.1833,.1652],[.1852,.1649],[.171,.166],[.1729,.1662],[.1748,.1659],[.1767,.1661],[.1786,.1658],[.1805,.1661],[.1824,.1659],[.1843,.1662],[.1719,.167],[.1738,.1672],[.1757,.1669],[.1776,.1671],[.1795,.1668],[.1814,.1671],[.1833,.1669],[.171,.168],[.1729,.1682],[.1748,.1679],[.1767,.1681],[.1786,.1678],[.1805,.1681],[.1824,.1679],[.1843,.1682],[.1719,.169],[.1738,.1692],[.1757,.1689],[.1776,.1691],[.1795,.1688],[.1814,.1691],[.1833,.1689],[.1729,.17],[.1748,.1702],[.1767,.1699],[.1786,.1701],[.1805,.1698],[.1824,.1701],[.1738,.171],[.1757,.1712],[.1776,.1709],[.1795,.1711],[.1814,.1708],[.1748,.172],[.1767,.1722],[.1786,.1719],[.1805,.1721],[.1757,.173],[.1776,.1732],[.1795,.1729],[.165,.1665],[.1667,.1691],[.1673,.1652],[.17,.1721],[.1769,.1782],[.1769,.176],[.1742,.1726],[.1798,.1556],[.1798,.1535],[.1821,.173],[.1831,.1708],[.1846,.1674],[.1856,.1717],[.1871,.1595],[.1856,.1556],[.184,.1613],[.1835,.1587],[.1687,.1656],[.1679,.1608],[.1669,.163],[.1694,.1587],[.170,.1543],[.1655,.1645],[.1642,.165],[.1638,.1628],[.1662,.1612],[.1685,.1565],[.1712,.1555],[.1745,.1548],[.1772,.1542],[.1812,.1548],[.1825,.1565],[.1862,.1645],[.1866,.1672],[.1858,.1688],[.1815,.1742],[.1795,.1738],[.1728,.1738],[.1708,.1702],[.1692,.1688],[.1678,.1705],[.1725,.1765],[.1755,.1752],[.1888,.1648],[.1873,.1622],[.1681,.1628],[.1718,.1582],[.1863,.1605]];

const gC1=[[.1019,.0973],[.101,.097],[.1073,.0966],[.1077,.1038],[.11,.1013],[.1125,.121],[.1122,.1154],[.1212,.106],[.125,.116],[.1308,.1317],[.1342,.1326],[.1414,.1263],[.1414,.1241],[.1433,.1388],[.1356,.1273],[.1375,.1242],[.109,.112],[.111,.1045],[.116,.114],[.119,.103],[.123,.122],[.127,.125],[.129,.113],[.132,.128],[.138,.129],[.14,.134],[.1445,.1405],[.106,.108],[.115,.102],[.118,.118],[.126,.109],[.133,.118],[.112,.1016],[.112,.1056],[.1118,.1096],[.114,.1032],[.1142,.1072],[.114,.1112],[.116,.1048],[.1162,.1088],[.1158,.1128],[.118,.1064],[.1182,.1104],[.1178,.1144],[.12,.108],[.1202,.112],[.1198,.116],[.122,.1096],[.1222,.1136],[.1218,.1176],[.124,.1112],[.1242,.1152],[.1238,.1192],[.126,.1128],[.1262,.1168],[.1258,.1208],[.128,.1144],[.1282,.1184],[.1278,.1224],[.13,.116],[.1302,.12],[.1298,.124],[.132,.1176],[.1322,.1216],[.1318,.1256],[.134,.1192],[.1342,.1232],[.1338,.1272],[.136,.1208],[.1362,.1248],[.1358,.1288]];
const gC2=[[.148,.1445],[.148,.1475],[.150,.1433],[.1502,.1473],[.1498,.1513],[.152,.141],[.1522,.145],[.1518,.149],[.152,.153],[.1522,.157],[.154,.1428],[.1538,.1468],[.1542,.1508],[.154,.1548],[.1538,.1588],[.156,.1445],[.1562,.1485],[.1558,.1525],[.156,.1565],[.1562,.1605],[.158,.1462],[.1578,.1502],[.1582,.1542],[.158,.1582],[.1578,.1622],[.16,.1479],[.1602,.1519],[.1598,.1559],[.16,.1599],[.1602,.1639],[.162,.1496],[.1618,.1536],[.1622,.1576],[.162,.1616],[.1618,.1656],[.164,.1514],[.1642,.1554],[.1638,.1594],[.164,.1634],[.1642,.1674],[.166,.1531],[.1658,.1571],[.1662,.1611],[.166,.1651],[.1658,.1691],[.168,.1548],[.1682,.1588],[.1678,.1628],[.168,.1668],[.1682,.1708],[.17,.1565],[.1698,.1605],[.1702,.1645],[.17,.1685],[.1698,.1725],[.172,.1582],[.1722,.1622],[.1718,.1662],[.172,.1702],[.1722,.1742],[.174,.16],[.1738,.164],[.1742,.168],[.174,.172],[.1738,.176],[.176,.1617],[.1762,.1657],[.1758,.1697],[.176,.1737],[.1762,.1777],[.178,.1634],[.1778,.1674],[.1782,.1714],[.178,.1754],[.1778,.1794],[.18,.1651],[.1802,.1691],[.1798,.1731],[.18,.1771],[.1802,.1811],[.182,.1668],[.1818,.1708],[.1822,.1748],[.182,.1788],[.1818,.1828],[.184,.1686],[.1842,.1726],[.1838,.1766],[.184,.1806],[.1842,.1846],[.186,.1703],[.1858,.1743],[.1862,.1783],[.186,.1823],[.1858,.1863],[.188,.172],[.1882,.176],[.1878,.18],[.188,.184],[.1882,.188],[.19,.1747],[.1898,.1787],[.1902,.1827],[.19,.1867],[.192,.1764],[.1922,.1804],[.1918,.1844],[.192,.1884],[.194,.1802],[.1938,.1842],[.1942,.1882],[.196,.1839],[.1958,.1879],[.198,.1871],[.1443,.1429],[.1452,.1373],[.1461,.138],[.1481,.1497],[.149,.1395],[.152,.141],[.155,.1435],[.157,.158],[.159,.162],[.162,.165],[.165,.1685],[.168,.171],[.171,.1735],[.174,.177],[.177,.1795],[.1848,.185],[.1885,.1865],[.1953,.1872],[.2001,.1872],[.197,.1835],[.199,.181],[.195,.177],[.19,.171],[.186,.1675],[.182,.164],[.178,.16],[.174,.1565],[.17,.1535],[.166,.15],[.162,.1465],[.158,.143],[.154,.1398],[.1539,.1585],[.1513,.1545],[.1465,.1505],[.1503,.1425],[.1618,.1542],[.1665,.1655],[.1714,.175],[.1753,.1795],[.1805,.1835],[.1835,.1695],[.1895,.1755]];

const hC1=[[.1305,.1226],[.133,.1251],[.1363,.1216],[.136,.1289],[.1381,.1297],[.136,.1421],[.1403,.139],[.1421,.1427],[.1436,.1458],[.1466,.1413],[.1494,.1475],[.153,.1485],[.1545,.1413],[.1557,.14],[.1599,.1438],[.1607,.1402],[.1545,.1334],[.1509,.1338],[.1466,.1276],[.143,.1292],[.1412,.1334],[.1388,.1354],[.1376,.1323],[.1454,.1371],[.1472,.14],[.1502,.1406],[.152,.1427],[.1569,.1385],[.1496,.1354],[.1442,.1334],[.14,.1313],[.1369,.1385],[.1379,.1344],[.137,.1261],[.1372,.1291],[.1368,.1321],[.137,.1351],[.139,.1272],[.1388,.1302],[.1392,.1332],[.139,.1362],[.141,.1283],[.1412,.1313],[.1408,.1343],[.141,.1373],[.143,.1294],[.1428,.1324],[.1432,.1354],[.143,.1384],[.145,.1305],[.1452,.1335],[.1448,.1365],[.145,.1395],[.147,.1316],[.1468,.1346],[.1472,.1376],[.147,.1406],[.149,.1327],[.1492,.1357],[.1488,.1387],[.149,.1417],[.151,.1338],[.1508,.1368],[.1512,.1398],[.151,.1428],[.153,.1348],[.1532,.1378],[.1528,.1408],[.153,.1438],[.155,.136],[.1548,.139],[.1552,.142],[.155,.145]];
const hC2=[[.161,.1508],[.1612,.1538],[.1608,.1568],[.1625,.152],[.1623,.155],[.1627,.158],[.164,.1505],[.1642,.1533],[.1638,.1561],[.164,.1589],[.1642,.1617],[.1655,.1517],[.1653,.1545],[.1657,.1573],[.1655,.1601],[.1653,.1629],[.167,.15],[.1672,.1528],[.1668,.1556],[.167,.1584],[.1672,.1612],[.1668,.164],[.167,.1668],[.1685,.1512],[.1683,.154],[.1687,.1568],[.1685,.1596],[.1683,.1624],[.1687,.1652],[.1685,.168],[.17,.1524],[.1702,.1552],[.1698,.158],[.17,.1608],[.1702,.1636],[.1698,.1664],[.17,.1692],[.1715,.1535],[.1713,.1563],[.1717,.1591],[.1715,.1619],[.1713,.1647],[.1717,.1675],[.1715,.1703],[.173,.1547],[.1732,.1575],[.1728,.1603],[.173,.1631],[.1732,.1659],[.1728,.1687],[.173,.1715],[.1745,.1558],[.1743,.1586],[.1747,.1614],[.1745,.1642],[.1743,.167],[.1747,.1698],[.1745,.1726],[.176,.157],[.1762,.1598],[.1758,.1626],[.176,.1654],[.1762,.1682],[.1758,.171],[.176,.1738],[.1775,.1581],[.1773,.1609],[.1777,.1637],[.1775,.1665],[.1773,.1693],[.1777,.1721],[.1775,.1749],[.179,.1593],[.1792,.1621],[.1788,.1649],[.179,.1677],[.1792,.1705],[.1788,.1733],[.179,.1761],[.1805,.1604],[.1803,.1632],[.1807,.166],[.1805,.1688],[.1803,.1716],[.1807,.1744],[.1805,.1772],[.182,.1616],[.1822,.1644],[.1818,.1672],[.182,.17],[.1822,.1728],[.1818,.1756],[.182,.1784],[.1835,.1628],[.1833,.1656],[.1837,.1684],[.1835,.1712],[.1833,.174],[.1837,.1768],[.1835,.1796],[.185,.1667],[.1852,.1695],[.1848,.1723],[.185,.1751],[.1852,.1779],[.1865,.1679],[.1863,.1707],[.1867,.1735],[.1865,.1763],[.1863,.1791],[.188,.1716],[.1882,.1746],[.1878,.1776],[.1895,.1728],[.1893,.1758],[.1897,.1788],[.1566,.1599],[.157,.1504],[.159,.1472],[.1587,.1551],[.1629,.1495],[.1611,.153],[.1907,.1779],[.1901,.1738],[.178,.1794],[.175,.1773],[.1732,.1738],[.1835,.1603],[.1796,.1541],[.1847,.1644],[.192,.176],[.1915,.1715],[.1888,.1695],[.1855,.166],[.1825,.1625],[.1775,.1565],[.1735,.1535],[.17,.1505],[.166,.1495],[.1645,.1525],[.1605,.1505],[.1615,.1575],[.164,.1625],[.167,.1685],[.17,.1715],[.1735,.1755],[.1765,.1775],[.1815,.1815],[.185,.181],[.187,.1805],[.1895,.1815],[.1938,.1775],[.1925,.1728],[.1605,.149],[.163,.1475],[.1625,.1605]];

// ---------------- layout (positions, sizes, styles) ----------------
const purple = "#8a2be2", green = "#00ff00";
const fInt = d3.format("d"), f1 = d3.format(".1f"), f2 = d3.format(".2f"), f3 = d3.format(".3f");
const panels = [
  {c1:aC1,c2:aC2.concat(aC2Core),xd:[-4.42,4.34],yd:[-3.72,3.84],xt:aXTicks,yt:aYTicks,xf:fInt,yf:fInt,box:[33,5,241,131],xfs:10,xoff:10,leg:[40,87,77,37],cap:[5,162.5]},
  {c1:bC1.concat(bC1Core),c2:bC2.concat(bC2Core),xd:[0.0189,0.3516],yd:[0.0133,0.1787],xt:bXTicks,yt:bYTicks,xf:f2,yf:f2,box:[294,5,497,129],xfs:10,xoff:13,leg:[301,10,76,37],cap:[260,162.5]},
  {c1:cC1,c2:cC2,xd:[-0.097,1.452],yd:[-0.099,1.045],xt:cXTicks,yt:cYTicks,xf:f1,yf:f1,box:[553,5,761,132],xfs:10,xoff:11.5,leg:[559,11,79,37],cap:[517,162.5]},
  {c1:dC1.concat(dC1Core),c2:dC2.concat(dC2Core),xd:[-0.029,0.582],yd:[-0.036,0.294],xt:dXTicks,yt:dYTicks,xf:f1,yf:f2,box:[815,5,1023,133],xfs:10,xoff:11.5,leg:[820,11,79,38],cap:[780,162.5]},
  {c1:eC1,c2:eC2.concat(eC2Core),xd:[-2.54,3.8],yd:[-3.356,4.06],xt:eXTicks,yt:eYTicks,xf:fInt,yf:fInt,box:[33,249,238,374],xfs:7.5,xoff:13,leg:[154,256,77,37],cap:[5,397.5]},
  {c1:fC1,c2:fC2,xd:[0.15375,0.1954],yd:[0.1361,0.1891],xt:fXTicks,yt:fYTicks,xf:f3,yf:f2,box:[290,248,490,370],xfs:7.5,xoff:13,leg:[295,253,76,36],cap:[256,397.5]},
  {c1:gC1,c2:gC2,xd:[0.0884,0.2058],yd:[0.0775,0.1938],xt:gXTicks,yt:gYTicks,xf:f2,yf:f2,box:[556,248,759,372],xfs:7.5,xoff:16,leg:[562,254,77,36],cap:[517,397.5]},
  {c1:hC1,c2:hC2,xd:[0.11927,0.19435],yd:[0.1048,0.1837],xt:hXTicks,yt:hYTicks,xf:f2,yf:f2,box:[815,244,1022,371],xfs:7.5,xoff:17,leg:[821,249,78,38],cap:[770,397.5]}
];

const fig = document.getElementById("fig");
const M = 40;
panels.forEach((p, i) => {
  const [l,t,r,b] = p.box;
  const svg = Plot.plot({
    width: (r-l) + 2*M, height: (b-t) + 2*M, margin: M,
    style: {fontFamily: "'DejaVu Sans', sans-serif", fontSize: "10px", color: "#1a1a1a", background: "transparent", overflow: "visible"},
    x: {domain: p.xd}, y: {domain: p.yd},
    marks: [
      Plot.dot(p.c1, {x: d => d[0], y: d => d[1], r: 2.8, fill: purple}),
      Plot.dot(p.c2, {x: d => d[0], y: d => d[1], r: 2.8, fill: green}),
      Plot.frame({stroke: "#333", strokeWidth: 1.1}),
      Plot.axisX({ticks: p.xt, tickFormat: p.xf, tickSize: 2.5, tickPadding: p.xoff - 2.5, tickRotate: -30, textAnchor: "middle", lineAnchor: "middle", fontSize: p.xfs}),
      Plot.axisY({ticks: p.yt, tickFormat: p.yf, tickSize: 2.5, tickPadding: 1.5, fontSize: 10})
    ]
  });
  const div = document.createElement("div");
  div.className = "panel";
  div.style.left = (l - M) + "px"; div.style.top = (t - M) + "px";
  div.appendChild(svg);
  fig.appendChild(div);

  const [lx, ly, lw, lh] = p.leg;
  const lg = document.createElement("div");
  lg.className = "legend";
  Object.assign(lg.style, {left: lx + "px", top: ly + "px", width: lw + "px", height: lh + "px"});
  [purple, green].forEach((col, k) => {
    const row = document.createElement("div");
    row.className = "row";
    row.style.top = (3 + k * 16) + "px";
    const mk = document.createElement("span");
    mk.className = "mk";
    Object.assign(mk.style, {left: "14px", top: "5.5px", background: col});
    const tx = document.createElement("span");
    tx.className = "tx";
    tx.style.left = "36px";
    tx.textContent = legendLabels[k];
    row.append(mk, tx);
    lg.appendChild(row);
  });
  fig.appendChild(lg);

  const cap = document.createElement("div");
  cap.className = "cap";
  cap.style.left = p.cap[0] + "px"; cap.style.top = p.cap[1] + "px";
  const lab = document.createElement("span");
  lab.className = "lab";
  lab.textContent = capLabels[i];
  cap.append(lab, capTitles[i], document.createElement("br"), "GFD=" + gfdValues[i]);
  fig.appendChild(cap);
});
</script>
</body></html>
